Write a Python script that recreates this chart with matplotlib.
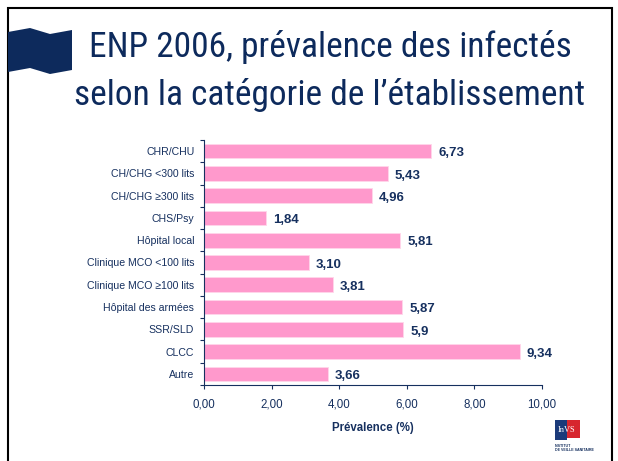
import matplotlib.pyplot as plt
from matplotlib.patches import Polygon, Rectangle
from matplotlib import font_manager

categories = ["CHR/CHU", "CH/CHG <300 lits", "CH/CHG \u2265300 lits", "CHS/Psy",
              "H\u00f4pital local", "Clinique MCO <100 lits", "Clinique MCO \u2265100 lits",
              "H\u00f4pital des arm\u00e9es", "SSR/SLD", "CLCC", "Autre"]
values = [6.73, 5.43, 4.96, 1.84, 5.81, 3.10, 3.81, 5.87, 5.9, 9.34, 3.66]
value_labels = ["6,73", "5,43", "4,96", "1,84", "5,81", "3,10", "3,81", "5,87", "5,9", "9,34", "3,66"]
xticks = [0, 2, 4, 6, 8, 10]
xtick_labels = ["0,00", "2,00", "4,00", "6,00", "8,00", "10,00"]

navy = "#16305f"
pink = "#ff99cc"

names = set(f.name for f in font_manager.fontManager.ttflist)
narrow = None
for n in ["Liberation Sans Narrow", "Roboto Condensed", "Open Sans Condensed", "DejaVu Sans Condensed"]:
    if n in names:
        narrow = n
        break
plt.rcParams['font.family'] = ["Liberation Sans", "DejaVu Sans"]

fig = plt.figure(figsize=(6.18, 4.61), dpi=100)

# slide frame
fig.patches.append(Rectangle((8 / 618, -0.05), 604 / 618, (461 - 8) / 461 + 0.05,
                             transform=fig.transFigure, fill=False, ec="black", lw=1.5))
# flag
flag = [(8, 32), (30, 28), (50, 34), (72, 30), (72, 70), (50, 74), (30, 68), (8, 72)]
fig.patches.append(Polygon([(x / 618, 1 - y / 461) for x, y in flag], closed=True,
                           transform=fig.transFigure, fc="#0d2a5c", ec="none"))

if narrow:
    tfam, tsize = [narrow, "DejaVu Sans"], 25.5
else:
    tfam, tsize = ["Liberation Sans", "DejaVu Sans"], 21.5
fig.text(0.534, 1 - 47 / 461, "ENP 2006, pr\u00e9valence des infect\u00e9s", ha="center", va="center",
         fontsize=tsize, color="#0d2a5c", family=tfam)
fig.text(0.534, 1 - 95 / 461, "selon la cat\u00e9gorie de l\u2019\u00e9tablissement", ha="center", va="center",
         fontsize=tsize, color="#0d2a5c", family=tfam)

ax = fig.add_axes([204 / 618, 76 / 461, 338 / 618, 245 / 461])
y = list(range(len(categories)))
ax.barh(y, values, height=0.66, color=pink, edgecolor="#ffd6ea", linewidth=0.6)
for yi, v, lab in zip(y, values, value_labels):
    ax.text(v + 0.2, yi + 0.1, lab, va="center", ha="left", fontsize=9.5,
            fontweight="bold", color=navy)
ax.set_ylim(len(categories) - 0.5, -0.5)
ax.set_xlim(0, 10)
ax.set_yticks([i - 0.5 for i in range(len(categories) + 1)], minor=False)
ax.set_yticklabels([])
ax.set_yticks(y, minor=True)
ax.set_yticklabels(categories, minor=True, fontsize=7.6, color=navy)
ax.tick_params(axis="y", which="minor", length=0, pad=7)
ax.tick_params(axis="y", which="major", length=3, direction="out", color=navy)
ax.set_xticks(xticks)
ax.set_xticklabels(xtick_labels, fontsize=8.3, color=navy)
ax.tick_params(axis="x", length=3, color=navy, pad=7)
ax.set_xlabel("Pr\u00e9valence (%)", fontsize=8.3, fontweight="bold", color=navy, labelpad=8)
for s in ["top", "right"]:
    ax.spines[s].set_visible(False)
for s in ["left", "bottom"]:
    ax.spines[s].set_color(navy)

# logo
fig.patches.append(Rectangle((555 / 618, 1 - 440 / 461), 12 / 618, 20 / 461,
                             transform=fig.transFigure, fc="#1b3a7a", ec="none"))
fig.patches.append(Rectangle((567 / 618, 1 - 438 / 461), 13 / 618, 18 / 461,
                             transform=fig.transFigure, fc="#d7262e", ec="none"))
fig.text(567 / 618, 1 - 430 / 461, "InVS", ha="center", va="center", fontsize=6,
         color="white", family="Liberation Serif")
fig.text(555 / 618, 1 - 448 / 461, "INSTITUT\nDE VEILLE SANITAIRE", ha="left", va="center",
         fontsize=2.6, fontweight="bold", color=navy, linespacing=1.1)

fig.savefig("out.png", dpi=100)
